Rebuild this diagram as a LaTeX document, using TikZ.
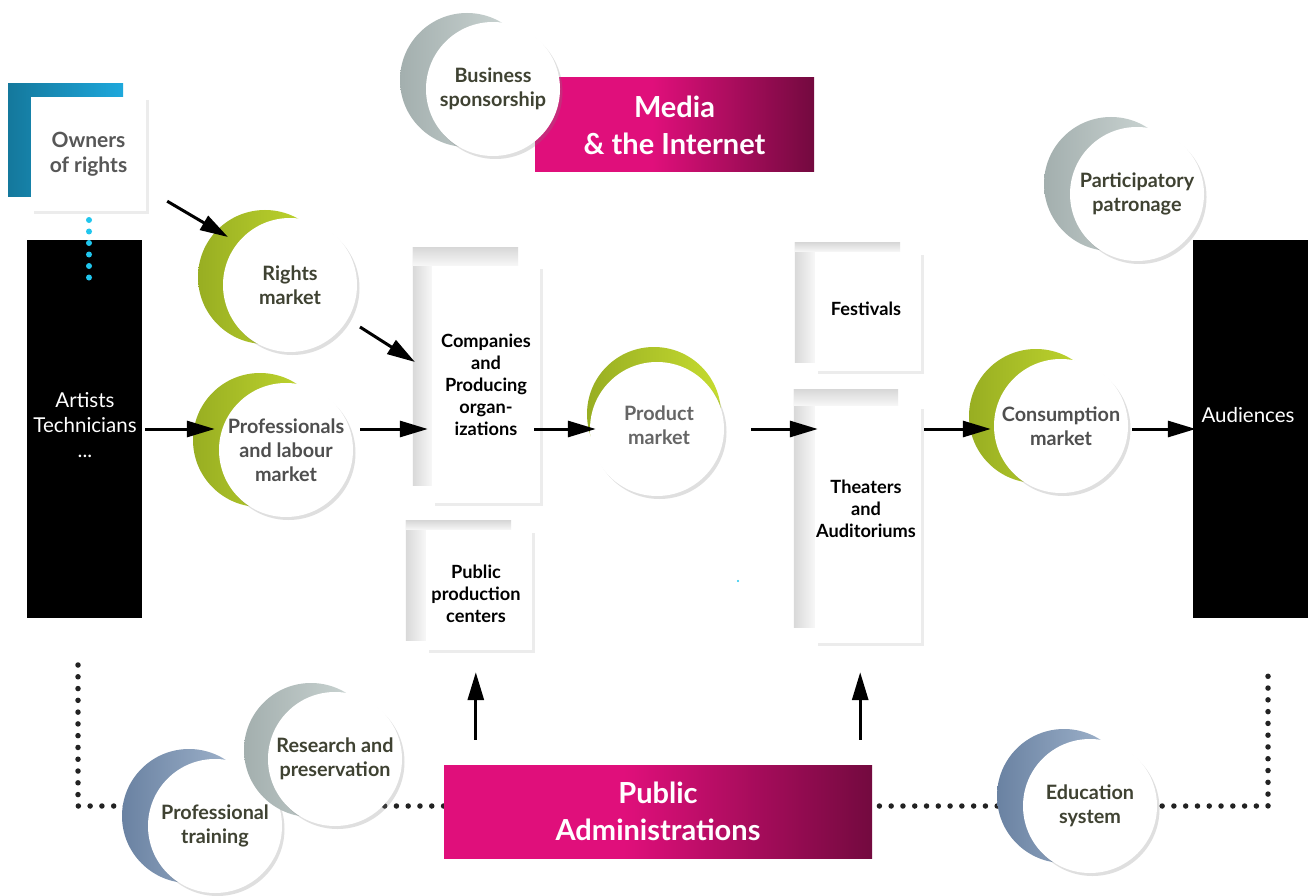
\documentclass[tikz,border=0pt]{standalone}
\usepackage{fontspec}
\setmainfont{Lato}
\usetikzlibrary{arrows.meta,shadows,calc}
\definecolor{mpink}{HTML}{E00F7B}
\definecolor{mdark}{HTML}{730A3F}
\definecolor{bluel}{HTML}{14789C}
\definecolor{bluer}{HTML}{1EA8DC}
\definecolor{greenl}{HTML}{98AE22}
\definecolor{greenr}{HTML}{C6DC30}
\definecolor{greyl}{HTML}{A3AFAE}
\definecolor{greyr}{HTML}{D3DCDA}
\definecolor{slatel}{HTML}{6A82A2}
\definecolor{slater}{HTML}{A9BCD3}
\definecolor{olivetxt}{HTML}{3F4232}
\definecolor{marktxt}{HTML}{4F4F4F}
\definecolor{prodtxt}{HTML}{666666}
\definecolor{owntxt}{HTML}{575757}
\definecolor{dotc}{HTML}{222222}
\definecolor{cyandot}{HTML}{20C6EE}
\pgfdeclarehorizontalshading{mediashade}{100bp}{color(0bp)=(mpink); color(25bp)=(mpink); color(46bp)=(mpink); color(75bp)=(mdark); color(100bp)=(mdark)}
\newcommand\fntcirc{\bfseries\fontsize{19.8}{23.8}\selectfont}
\newcommand\fntpage{\bfseries\fontsize{18.2}{22}\selectfont}
\newcommand\fntbig{\bfseries\fontsize{29}{37}\selectfont}
\newcommand\fntside{\fontsize{20.5}{25}\selectfont}
\newcommand\fntowner{\bfseries\fontsize{21}{25}\selectfont}
\begin{document}
\begin{tikzpicture}[x=1pt,y=-1pt,
  circ/.style={circle, minimum size=134pt, inner sep=0pt, fill=white, align=center, font=\fntcirc,
     drop shadow={shadow xshift=2.5pt, shadow yshift=-3pt, opacity=.25}},
  backc/.style={circle, minimum size=134pt, inner sep=0pt},
  greenback/.style={backc, left color=greenl, right color=greenr},
  greyback/.style={backc, left color=greyl, right color=greyr},
  slateback/.style={backc, left color=slatel, right color=slater},
  pageback/.style={rectangle, inner sep=0pt, fill=gray!6},
  pagefront/.style={rectangle, inner sep=0pt, fill=white, align=center, font=\fntpage,
     drop shadow={shadow xshift=3pt, shadow yshift=-3pt, opacity=.15}},
  blackbox/.style={rectangle, inner sep=0pt, fill=black, text=white, align=center, font=\fntside},
  bigbox/.style={rectangle, inner sep=0pt, shading=mediashade, text=white, align=center, font=\fntbig},
  arr/.style={line width=3pt, -{Triangle[length=28pt,width=16pt]}},
  dotline/.style={line width=5.5pt, dash pattern=on 0pt off 11.78pt, line cap=round, color=dotc},
  cyanline/.style={line width=6pt, dash pattern=on 0pt off 11.5pt, line cap=round, color=cyandot}
]
\useasboundingbox (0,0) rectangle (1309,896);
\fill[white] (0,0) rectangle (1309,896);

% dotted frame at the bottom
\coordinate (dl) at (78,665);
\coordinate (dbl) at (78,806);
\coordinate (dbr) at (1268,806);
\coordinate (dr) at (1268,665);
\draw[dotline] (dl) -- (dbl) -- (dbr) -- (dr);

% Owners of rights
\node[rectangle, inner sep=0pt, minimum width=115pt, minimum height=113pt, left color=bluel, right color=bluer] (ownback) at (65.5,140.5) {};
\node[pagefront, minimum width=115pt, minimum height=114pt, font=\fntowner, text=owntxt] (owners) at (88.5,154) {Owners\\of rights};

% Artists / Audiences
\node[blackbox, minimum width=115pt, minimum height=378pt] (artists) at (84.5,429) {};
\node[text=white, align=center, font=\fntside] (arttxt) at (85,425) {Artists\\Technicians\\...};
\node[blackbox, minimum width=115pt, minimum height=378pt] (aud) at (1250.5,429) {};
\node[text=white, font=\fntside] (audtxt) at (1248,415) {Audiences};

% cyan dots
\coordinate (cy1) at (89,220);
\coordinate (cy2) at (89,278);
\draw[cyanline] (cy1) -- (cy2);

% Media & the Internet + Business sponsorship
\node[bigbox, minimum width=279pt, minimum height=94pt] (media) at (674.5,125) {Media\\\& the Internet};
\node[greyback] (busiback) at (467,80) {};
\node[circ, text=olivetxt] (busi) at (493,89) {Business\\sponsorship};

% Participatory patronage
\node[greyback] (partback) at (1111,184) {};
\node[circ, text=olivetxt] (partic) at (1137,194) {Participatory\\patronage};

% Markets
\node[greenback] (rightsback) at (265,277) {};
\node[circ, text=olivetxt] (rights) at (290,285) {Rights\\market};
\node[greenback] (profback) at (260,440) {};
\node[circ, text=marktxt] (prof) at (286,450) {Professionals\\and labour\\market};
\node[greenback] (prodback) at (654,414) {};
\node[circ, text=prodtxt] (prod) at (657,429) {};
\node[font=\fntcirc, text=prodtxt, align=center] (prodtxt) at (659,425) {Product\\market};
\node[greenback] (consback) at (1036,416) {};
\node[circ, text=marktxt] (cons) at (1061,426) {Consumption\\market};

% Pages
\node[pageback, minimum width=105pt, minimum height=237pt] (compback) at (465.5,366.5) {};
\shade[left color=gray!30, right color=gray!6] (compback.north west) rectangle ($(compback.south west)+(19,0)$);
\shade[top color=gray!30, bottom color=gray!6] (compback.north west) rectangle ($(compback.north east)+(0,18)$);
\node[pagefront, minimum width=108pt, minimum height=237pt] (comp) at (486,384.5) {Companies\\and\\Producing\\organ-\\izations};

\node[pageback, minimum width=105pt, minimum height=119pt] (ppback) at (458.5,580.5) {};
\shade[left color=gray!30, right color=gray!6] (ppback.north west) rectangle ($(ppback.south west)+(20,0)$);
\shade[top color=gray!30, bottom color=gray!6] (ppback.north west) rectangle ($(ppback.north east)+(0,9)$);
\node[pagefront, minimum width=106pt, minimum height=120pt] (pubprod) at (479,590) {};
\node[font=\fntpage, align=center] (pubprodtxt) at (476,594) {Public\\production\\centers};

\node[pageback, minimum width=105pt, minimum height=119pt] (festback) at (847.5,302.5) {};
\shade[left color=gray!30, right color=gray!6] (festback.north west) rectangle ($(festback.south west)+(20,0)$);
\shade[top color=gray!30, bottom color=gray!6] (festback.north west) rectangle ($(festback.north east)+(0,9)$);
\node[pagefront, minimum width=106pt, minimum height=119pt] (fest) at (868,311.5) {};
\node[font=\fntpage] (festtxt) at (866,309) {Festivals};

\node[pageback, minimum width=104pt, minimum height=237pt] (theatback) at (846,508.5) {};
\shade[left color=gray!30, right color=gray!6] (theatback.north west) rectangle ($(theatback.south west)+(21,0)$);
\shade[top color=gray!30, bottom color=gray!6] (theatback.north west) rectangle ($(theatback.north east)+(0,16)$);
\node[pagefront, minimum width=106pt, minimum height=237pt] (theat) at (868,524.5) {};
\node[font=\fntpage, align=center] (theattxt) at (866,509) {Theaters\\and\\Auditoriums};

% stray dot
\fill[cyandot] (738,581) circle (1.2pt);

% Public Administrations
\node[bigbox, minimum width=428pt, minimum height=93pt] (padmin) at (658,811.5) {Public\\Administrations};

% bottom circles
\node[slateback] (trainback) at (189,816) {};
\node[circ, text=olivetxt] (train) at (215,826) {Professional\\training};
\node[greyback] (resback) at (311,750) {};
\node[circ, text=olivetxt] (research) at (335,759) {Research and\\preservation};
\node[slateback] (eduback) at (1064,796) {};
\node[circ, text=olivetxt] (edu) at (1090,806) {Education\\system};

% arrows
\draw[arr] ([xshift=3pt]artists.east) -- ([xshift=-4pt]artists.east -| prof.west);
\draw[arr] ([xshift=7pt]prof.east |- artists.east) -- ([xshift=-4pt]artists.east -| comp.west);
\draw[arr] ($(owners.south east)+(21,-10)$) -- ($(rights.center)+(-62,-48)$);
\draw[arr] ($(rights.center)+(70,42)$) -- ($(comp.center)+(-71,-22.5)$);
\draw[arr] ([xshift=-6pt]comp.east |- artists.east) -- ([xshift=6pt]prod.west |- artists.east);
\draw[arr] ([xshift=27pt]prod.east |- artists.east) -- ([xshift=3pt]theat.west |- artists.east);
\draw[arr] ([xshift=3pt]theat.east |- artists.east) -- ([xshift=-3pt]cons.west |- artists.east);
\draw[arr] ([xshift=4pt]cons.east |- artists.east) -- ([xshift=3pt]aud.west |- artists.east);
\coordinate (up1) at ($(padmin.north west)+(32,-25)$);
\coordinate (up2) at ($(padmin.north east)+(-12,-25)$);
\draw[arr] (up1) -- ($(up1 |- pubprod.south)+(0,22)$);
\draw[arr] (up2) -- ($(up2 |- theat.south)+(0,29)$);
\end{tikzpicture}
\end{document}
